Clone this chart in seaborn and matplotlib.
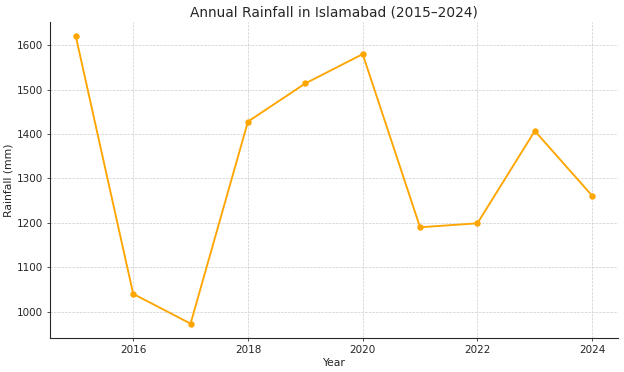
import matplotlib
matplotlib.use("Agg")
import matplotlib.pyplot as plt
import seaborn as sns
import pandas as pd

years = [2015, 2016, 2017, 2018, 2019, 2020, 2021, 2022, 2023, 2024]
rainfall = [1620, 1040, 973, 1428, 1514, 1580, 1190, 1199, 1407, 1261]

df = pd.DataFrame({"Year": years, "Rainfall": rainfall})

sns.set_style("ticks")
plt.rcParams['font.family'] = ['DejaVu Sans']

DPI = 71
fig, ax = plt.subplots(figsize=(624 / DPI, 372 / DPI), dpi=DPI)
sns.lineplot(data=df, x="Year", y="Rainfall", marker="o", color="orange",
             markersize=6.5, markeredgewidth=0, linewidth=1.9, ax=ax)

ax.set_title("Annual Rainfall in Islamabad (2015–2024)", fontsize=14, color="#262626")
ax.set_xlabel("Year", fontsize=11, color="#262626", labelpad=3)
ax.set_ylabel("Rainfall (mm)", fontsize=11, color="#262626", labelpad=3)
ax.tick_params(labelsize=10.5, colors="#262626", pad=3.5)
ax.set_xticks([2016, 2018, 2020, 2022, 2024])
ax.grid(True, linestyle="--", linewidth=0.7, color="#cccccc")
sns.despine(ax=ax)
for s in ["left", "bottom"]:
    ax.spines[s].set_color("#262626")
    ax.spines[s].set_linewidth(1.1)

fig.subplots_adjust(left=50 / 624, right=618 / 624, top=1 - 22 / 372, bottom=1 - 338 / 372)
fig.savefig("out.png", dpi=DPI)
